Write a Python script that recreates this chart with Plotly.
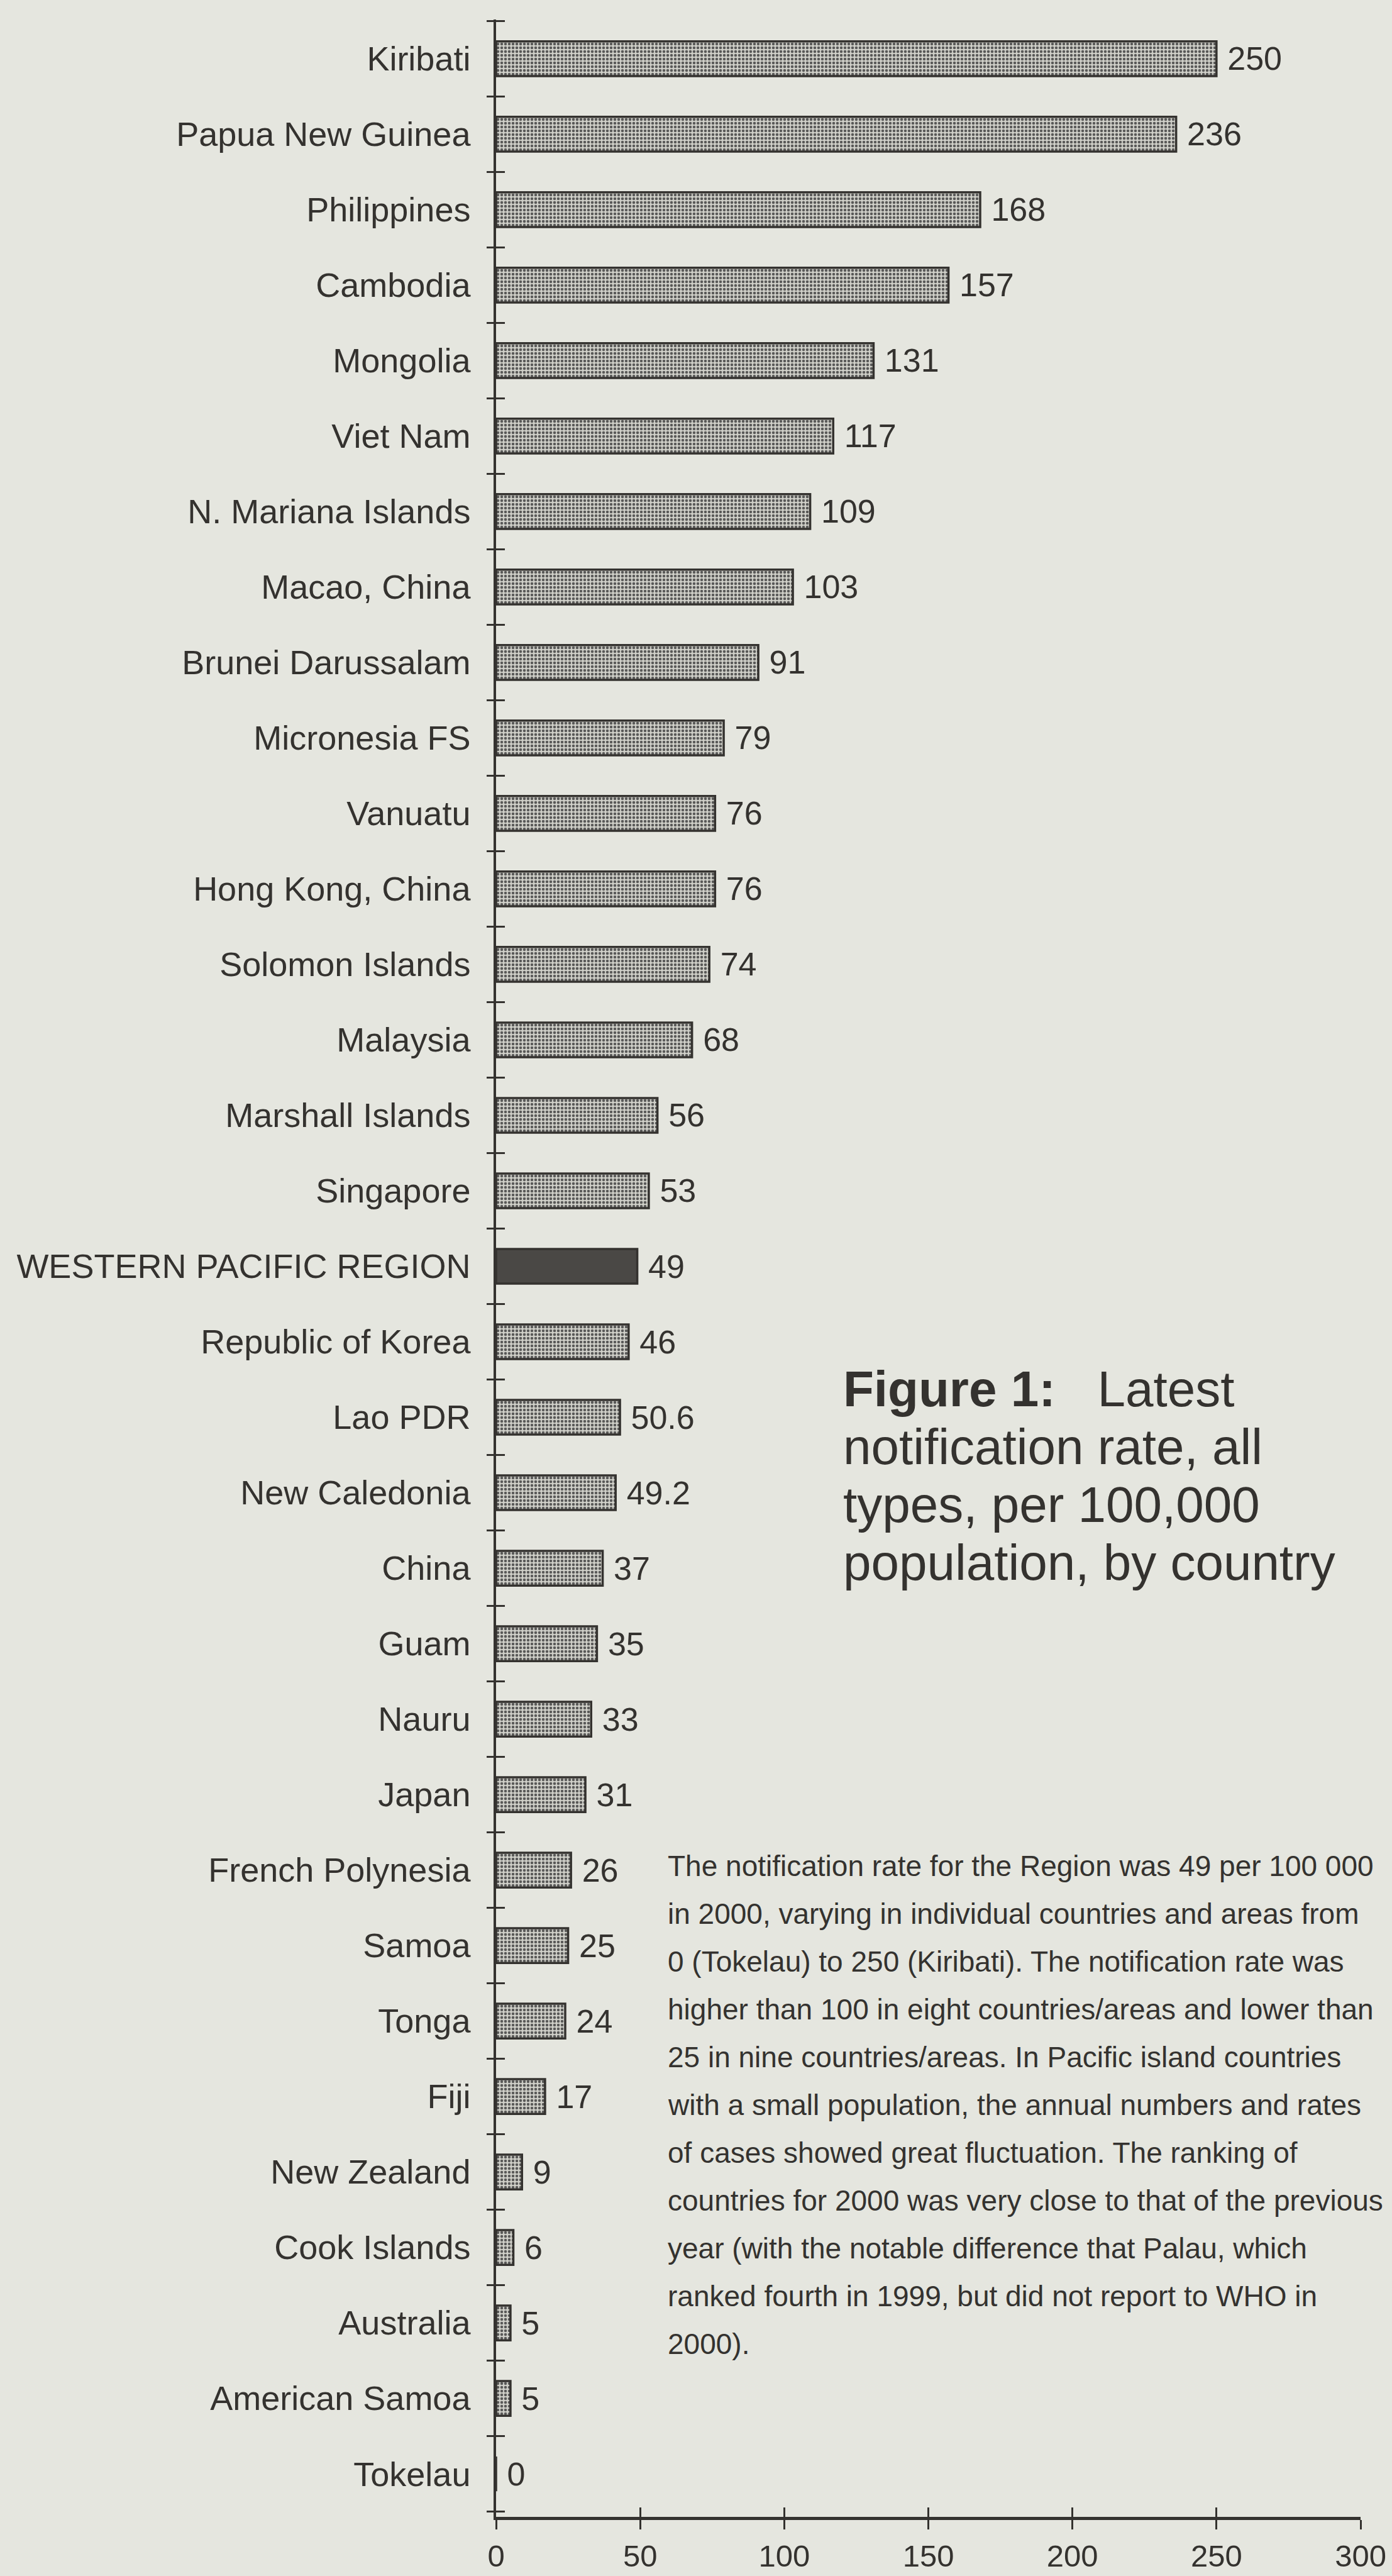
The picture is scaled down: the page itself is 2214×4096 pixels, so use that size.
import plotly.graph_objects as go

# ---------------- data ----------------
categories = [
    "Kiribati", "Papua New Guinea", "Philippines", "Cambodia", "Mongolia",
    "Viet Nam", "N. Mariana Islands", "Macao, China", "Brunei Darussalam",
    "Micronesia FS", "Vanuatu", "Hong Kong, China", "Solomon Islands",
    "Malaysia", "Marshall Islands", "Singapore", "WESTERN PACIFIC REGION",
    "Republic of Korea", "Lao PDR", "New Caledonia", "China", "Guam", "Nauru",
    "Japan", "French Polynesia", "Samoa", "Tonga", "Fiji", "New Zealand",
    "Cook Islands", "Australia", "American Samoa", "Tokelau",
]
# bar lengths as drawn in the picture
bar_values = [250, 236, 168, 157, 131, 117, 109, 103, 91, 79, 76, 76, 74, 68,
              56, 53, 49, 46, 43, 41.5, 37, 35, 33, 31, 26, 25, 24, 17, 9, 6,
              5, 5, 0]
# value labels as printed in the picture
value_labels = ["250", "236", "168", "157", "131", "117", "109", "103", "91",
                "79", "76", "76", "74", "68", "56", "53", "49", "46", "50.6",
                "49.2", "37", "35", "33", "31", "26", "25", "24", "17", "9",
                "6", "5", "5", "0"]
x_ticks = [0, 50, 100, 150, 200, 250, 300]
region_name = "WESTERN PACIFIC REGION"

caption_lines = [
    "<b>Figure 1:</b>\u00a0\u00a0\u00a0Latest",
    "notification rate, all",
    "types, per 100,000",
    "population, by country",
]
paragraph_lines = [
    "The notification rate for the Region was 49 per 100 000",
    "in 2000, varying in individual countries and areas from",
    "0 (Tokelau) to 250 (Kiribati). The notification rate was",
    "higher than 100 in eight countries/areas and lower than",
    "25 in nine countries/areas. In Pacific island countries",
    "with a small population, the annual numbers and rates",
    "of cases showed great fluctuation. The ranking of",
    "countries for 2000 was very close to that of the previous",
    "year (with the notable difference that Palau, which",
    "ranked fourth in 1999, but did not report to WHO in",
    "2000).",
]

# ---------------- style / layout ----------------
W, H = 2214, 4096
ML, MR, MT, MB = 789, 50, 31, 94
PW, PH = W - ML - MR, H - MT - MB
INK = "#34322f"
PAPER = "#e5e6df"
FONT = "Liberation Sans, Arial, Helvetica, sans-serif"

n = len(categories)
y_range = [n - 1 + 0.57, -0.52]
boundaries = [i - 0.5 for i in range(n + 1)]

bar_colors = ["#4a4845" if c == region_name else "#cfcfc8" for c in categories]
bar_shapes = ["" if c == region_name else "." for c in categories]


def px_x(p):
    return (p - ML) / PW


def px_y(p):
    return (H - MB - p) / PH


fig = go.Figure()
fig.add_trace(go.Bar(
    y=categories, x=bar_values, orientation="h", width=0.46,
    marker=dict(
        color=bar_colors,
        line=dict(color=INK, width=3.5),
        pattern=dict(shape=bar_shapes, fillmode="overlay", fgcolor="#2f2d2a",
                     fgopacity=0.85, size=6, solidity=0.45),
    ),
    text=value_labels, texttemplate="\u00a0%{text}", textposition="outside",
    textfont=dict(family=FONT, size=52, color=INK),
    constraintext="none", cliponaxis=False,
    showlegend=False, hoverinfo="skip",
))
# helper (empty) traces so that the overlaid tick axes are rendered
for xa, ya in [("x", "y2"), ("x", "y3"), ("x2", "y")]:
    fig.add_trace(go.Scatter(x=[None], y=[None], xaxis=xa, yaxis=ya,
                             mode="markers", showlegend=False, hoverinfo="skip"))

annotations = []
cap_y0, cap_dy = 2208.5, 92.0
for i, line in enumerate(caption_lines):
    annotations.append(dict(
        text=line, xref="paper", yref="paper", x=px_x(1339), y=px_y(cap_y0 + i * cap_dy),
        xanchor="left", yanchor="middle", showarrow=False, align="left",
        font=dict(family=FONT, size=80, color=INK)))

par_y0, par_dy = 2967.0, 76.0
for i, line in enumerate(paragraph_lines):
    annotations.append(dict(
        text=line, xref="paper", yref="paper", x=px_x(1060), y=px_y(par_y0 + i * par_dy),
        xanchor="left", yanchor="middle", showarrow=False, align="left",
        font=dict(family=FONT, size=46, color=INK)))

tick_common = dict(showgrid=False, zeroline=False, tickcolor=INK, tickwidth=3)

fig.update_layout(
    width=W, height=H,
    margin=dict(l=ML, r=MR, t=MT, b=MB, autoexpand=False),
    paper_bgcolor=PAPER, plot_bgcolor=PAPER,
    font=dict(family=FONT, color=INK),
    xaxis=dict(range=[0, 300], tickvals=x_ticks, ticks="outside", ticklen=15,
               showline=True, linewidth=5, linecolor=INK,
               tickfont=dict(family=FONT, size=49, color=INK),
               ticklabelstandoff=0, **tick_common),
    xaxis2=dict(overlaying="x", anchor="y", side="bottom", range=[0, 300],
                tickvals=x_ticks, ticks="inside", ticklen=15,
                showticklabels=False, showline=False, **tick_common),
    yaxis=dict(type="category", categoryorder="array", categoryarray=categories,
               range=y_range, ticks="", showline=True, linewidth=3.5, linecolor=INK,
               tickfont=dict(family=FONT, size=54, color=INK),
               ticklabelstandoff=26, showgrid=False, zeroline=False),
    yaxis2=dict(overlaying="y", anchor="x", side="left", type="linear",
                range=y_range, tickvals=boundaries, ticks="outside", ticklen=14,
                showticklabels=False, showline=False, **tick_common),
    yaxis3=dict(overlaying="y", anchor="x", side="left", type="linear",
                range=y_range, tickvals=boundaries, ticks="inside", ticklen=14,
                showticklabels=False, showline=False, **tick_common),
    annotations=annotations,
)

fig.write_html("out.html", config={"displayModeBar": False})
